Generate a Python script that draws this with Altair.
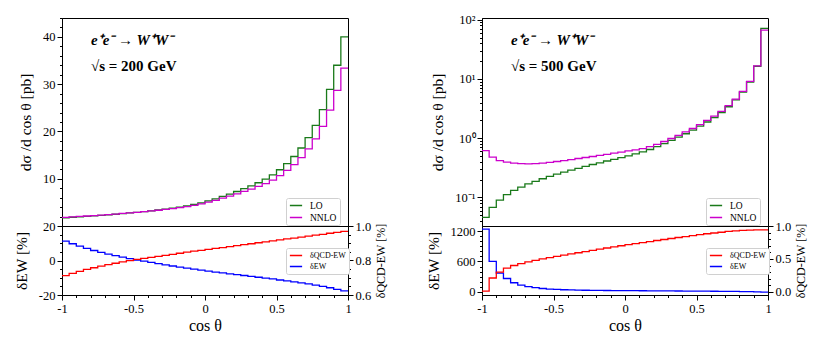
import altair as alt
import pandas as pd

# bin edges of cos(theta)
edges = [round(-1 + 0.05 * i, 2) for i in range(41)]

# sqrt(s) = 200 GeV
lo_200 = [1.75, 1.85, 1.95, 2.05, 2.15, 2.26, 2.37, 2.49, 2.62, 2.76, 2.9, 3.05, 3.21, 3.38,
          3.57, 3.77, 4.0, 4.25, 4.55, 4.9, 5.3, 5.75, 6.25, 6.75, 7.3, 7.9, 8.5, 9.15, 9.9,
          10.8, 11.9, 13.2, 14.7, 16.5, 18.7, 21.3, 24.6, 28.9, 34.0, 40.0]
nnlo_200 = [1.84, 1.93, 2.03, 2.12, 2.21, 2.32, 2.42, 2.53, 2.65, 2.77, 2.9, 3.03, 3.18, 3.33,
            3.5, 3.68, 3.88, 4.1, 4.37, 4.68, 5.04, 5.43, 5.88, 6.31, 6.79, 7.31, 7.82, 8.37,
            8.96, 9.72, 10.65, 11.75, 13.0, 14.47, 16.3, 18.42, 21.08, 24.5, 28.7, 33.4]
ew_200 = [11.2, 9.7, 8.3, 7.0, 5.8, 4.7, 3.7, 2.8, 1.9, 1.1, 0.3, -0.4, -1.1, -1.8, -2.5, -3.2,
          -3.8, -4.4, -5.0, -5.6, -6.2, -6.7, -7.2, -7.7, -8.2, -8.7, -9.2, -9.7, -10.2, -10.7,
          -11.3, -11.8, -12.4, -13.0, -13.6, -14.3, -15.0, -15.8, -16.7, -17.6]
qcdew_200 = [0.712, 0.725, 0.737, 0.748, 0.758, 0.767, 0.776, 0.784, 0.792, 0.799, 0.806, 0.812,
             0.818, 0.824, 0.830, 0.836, 0.842, 0.848, 0.854, 0.859, 0.864, 0.870, 0.875, 0.881,
             0.886, 0.892, 0.897, 0.903, 0.908, 0.914, 0.919, 0.925, 0.930, 0.936, 0.941, 0.947,
             0.952, 0.958, 0.963, 0.969]

# sqrt(s) = 500 GeV
lo_500 = [0.046, 0.068, 0.09, 0.112, 0.132, 0.15, 0.169, 0.187, 0.207, 0.227, 0.248, 0.268, 0.29,
          0.31, 0.334, 0.36, 0.385, 0.413, 0.44, 0.47, 0.505, 0.545, 0.59, 0.645, 0.72, 0.81,
          0.92, 1.04, 1.19, 1.37, 1.6, 1.88, 2.23, 2.72, 3.4, 4.45, 6.0, 8.9, 16.4, 71.4]
nnlo_500 = [0.62, 0.48, 0.42, 0.395, 0.38, 0.372, 0.37, 0.373, 0.38, 0.39, 0.405, 0.42, 0.437,
            0.455, 0.473, 0.492, 0.512, 0.535, 0.56, 0.585, 0.61, 0.635, 0.67, 0.72, 0.79, 0.88,
            0.99, 1.12, 1.28, 1.46, 1.7, 2.0, 2.37, 2.84, 3.54, 4.58, 6.17, 9.1, 16.7, 67.0]
ew_500 = [1240, 602, 370, 264, 180, 132, 104, 82, 66, 55, 48, 42, 38, 35, 32, 30, 28, 27, 26, 25,
          24, 23, 22, 21, 20, 19, 18, 17, 16, 15, 14, 13, 12, 11, 10, 8, 6, 4, 1, -4]
qcdew_500 = [0.01, 0.21, 0.30, 0.36, 0.40, 0.43, 0.455, 0.478, 0.50, 0.52, 0.54, 0.558, 0.576,
             0.594, 0.612, 0.63, 0.648, 0.666, 0.684, 0.70, 0.716, 0.732, 0.748, 0.764, 0.78,
             0.795, 0.81, 0.825, 0.84, 0.853, 0.87, 0.882, 0.894, 0.905, 0.917, 0.926, 0.933,
             0.938, 0.941, 0.942]

# tick values
x_ticks = [round(-1 + 0.1 * i, 1) for i in range(21)]
y_ticks_200 = [2 * i for i in range(1, 23)]
y_ticks_500 = [0.04, 0.05, 0.06, 0.07, 0.08, 0.09, 0.1, 0.2, 0.3, 0.4, 0.5, 0.6, 0.7, 0.8, 0.9,
               1, 2, 3, 4, 5, 6, 7, 8, 9, 10, 20, 30, 40, 50, 60, 70, 80, 90, 100]
ew_ticks_200 = [-20, -15, -10, -5, 0, 5, 10, 15, 20]
qcd_ticks_200 = [0.6, 0.65, 0.7, 0.75, 0.8, 0.85, 0.9, 0.95, 1.0]
ew_ticks_500 = [100 * i for i in range(13)]
qcd_ticks_500 = [round(0.1 * i, 1) for i in range(11)]

W, HT, HB = 286, 208, 69
FONT = "Liberation Serif"
GREEN, MAGENTA, RED, BLUE = "#1a7a1a", "#cc00cc", "#ff0000", "#0000ff"


def step_df(vals, name):
    return pd.DataFrame({"x": edges, "y": list(vals) + [vals[-1]], "series": name})


def tick_axis(values, major_test, label_expr, title=None, orient="left", **kw):
    return alt.Axis(
        values=values,
        orient=orient,
        title=title,
        labelExpr=label_expr,
        tickSize={"condition": {"test": major_test, "value": 5}, "value": 2.5},
        labelOverlap=False,
        labelFlush=False,
        **kw,
    )


x_major = "abs(datum.value*2 - round(datum.value*2)) < 0.001"
x_axis = tick_axis(x_ticks, x_major, f"({x_major}) ? toString(datum.value) : ''",
                   title="cos θ", orient="bottom", titleFontSize=16, titlePadding=3)
x_enc = alt.X("x:Q", scale=alt.Scale(domain=[-1, 1], nice=False, zero=False), axis=None)
x_enc_b = alt.X("x:Q", scale=alt.Scale(domain=[-1, 1], nice=False, zero=False), axis=x_axis)


def legend(x, y, size):
    return alt.Legend(title=None, orient="none", legendX=x, legendY=y, direction="vertical",
                      symbolType="stroke", symbolSize=150, symbolStrokeWidth=1.5,
                      clipHeight=9, labelFont=FONT, labelFontSize=size, strokeColor="#d0d0d0",
                      fillColor="white", padding=3, cornerRadius=2, rowPadding=2,
                      labelOffset=7, labelLimit=200)


def top_panel(lo, nnlo, yscale, yaxis, energy):
    df = pd.concat([step_df(lo, "LO"), step_df(nnlo, "NNLO")])
    lines = alt.Chart(df).mark_line(interpolate="step-after", strokeWidth=1.3, clip=True).encode(
        x=x_enc,
        y=alt.Y("y:Q", scale=yscale, axis=yaxis),
        color=alt.Color("series:N", scale=alt.Scale(domain=["LO", "NNLO"], range=[GREEN, MAGENTA]),
                        legend=legend(224, 180, 9.5)),
    )
    t1 = alt.Chart(pd.DataFrame({"t": ["e⁺e⁻  →  W⁺W⁻"]})).mark_text(
        align="left", baseline="middle", font=FONT, fontSize=15, fontWeight="bold",
        fontStyle="italic").encode(x=alt.value(29), y=alt.value(22), text="t:N")
    t2 = alt.Chart(pd.DataFrame({"t": [f"√s  =  {energy} GeV"]})).mark_text(
        align="left", baseline="middle", font=FONT, fontSize=15, fontWeight="bold").encode(
        x=alt.value(29), y=alt.value(48), text="t:N")
    return alt.layer(lines, t1, t2).properties(width=W, height=HT)


def bottom_panel(ew, qcd, lscale, laxis, rscale, raxis):
    color = alt.Color("series:N",
                      scale=alt.Scale(domain=["δQCD-EW", "δEW"], range=[RED, BLUE]),
                      legend=legend(224, 22, 8))
    blue = alt.Chart(step_df(ew, "δEW")).mark_line(
        interpolate="step-after", strokeWidth=1.3, clip=True).encode(
        x=x_enc_b, y=alt.Y("y:Q", scale=lscale, axis=laxis), color=color)
    red = alt.Chart(step_df(qcd, "δQCD-EW")).mark_line(
        interpolate="step-after", strokeWidth=1.3, clip=True).encode(
        x=x_enc_b, y=alt.Y("y:Q", scale=rscale, axis=raxis), color=color)
    return alt.layer(blue, red).resolve_scale(y="independent").properties(width=W, height=HB)


title_kw = dict(titleFontSize=15.5, titlePadding=9)
rtitle_kw = dict(titleFontSize=12, titlePadding=5, titleAngle=270, titleBaseline="top")

# ---- left (200 GeV)
top200 = top_panel(
    lo_200, nnlo_200,
    alt.Scale(domain=[0, 44], nice=False, zero=False),
    tick_axis(y_ticks_200, "datum.value % 10 == 0",
              "datum.value % 10 == 0 ? toString(datum.value) : ''",
              title="dσ /d cos θ [pb]", **title_kw),
    200)
bot200 = bottom_panel(
    ew_200, qcdew_200,
    alt.Scale(domain=[-20, 20], nice=False, zero=False),
    tick_axis(ew_ticks_200, "abs(datum.value) % 20 == 0",
              "abs(datum.value) % 20 == 0 ? toString(datum.value) : ''",
              title="δEW [%]", **title_kw),
    alt.Scale(domain=[0.6, 1.0], nice=False, zero=False),
    tick_axis(qcd_ticks_200, "abs(datum.value*5 - round(datum.value*5)) < 0.001",
              "abs(datum.value*5 - round(datum.value*5)) < 0.001 ? format(datum.value, '.1f') : ''",
              title="δQCD-EW [%]", orient="right", **rtitle_kw),
)

# ---- right (500 GeV)
log_major = "abs(log(datum.value)/LN10 - round(log(datum.value)/LN10)) < 0.001"
top500 = top_panel(
    lo_500, nnlo_500,
    alt.Scale(type="log", domain=[0.033, 107], nice=False),
    tick_axis(y_ticks_500, log_major,
              "datum.value == 0.1 ? '10⁻¹' : datum.value == 1 ? '10⁰' : datum.value == 10 ? '10¹' : datum.value == 100 ? '10²' : ''",
              title="dσ /d cos θ [pb]", **title_kw),
    500)
bot500 = bottom_panel(
    ew_500, qcdew_500,
    alt.Scale(domain=[-62, 1300], nice=False, zero=False),
    tick_axis(ew_ticks_500, "datum.value % 600 == 0",
              "datum.value % 600 == 0 ? toString(datum.value) : ''",
              title="δEW [%]", **title_kw),
    alt.Scale(domain=[-0.048, 1.0], nice=False, zero=False),
    tick_axis(qcd_ticks_500, "abs(datum.value*2 - round(datum.value*2)) < 0.001",
              "abs(datum.value*2 - round(datum.value*2)) < 0.001 ? format(datum.value, '.1f') : ''",
              title="δQCD-EW [%]", orient="right", **rtitle_kw),
)

left = alt.vconcat(top200, bot200, spacing=0, bounds="flush").resolve_scale(
    color="independent").resolve_legend(color="independent")
right = alt.vconcat(top500, bot500, spacing=0, bounds="flush").resolve_scale(
    color="independent").resolve_legend(color="independent")

chart = alt.hconcat(left, right, spacing=37).resolve_scale(color="independent").resolve_legend(
    color="independent").properties(
    padding={"left": 5, "top": 3, "right": 5, "bottom": 5}
).configure_view(stroke="black", strokeWidth=1).configure_axis(
    labelFont=FONT, titleFont=FONT, labelFontSize=12.5, titleFontWeight="normal",
    grid=False, domainColor="black", tickColor="black", labelColor="black", titleColor="black",
    domainWidth=1, tickWidth=1, labelPadding=2,
)

chart.save("out.html", embed_options={"renderer": "svg", "actions": False})
